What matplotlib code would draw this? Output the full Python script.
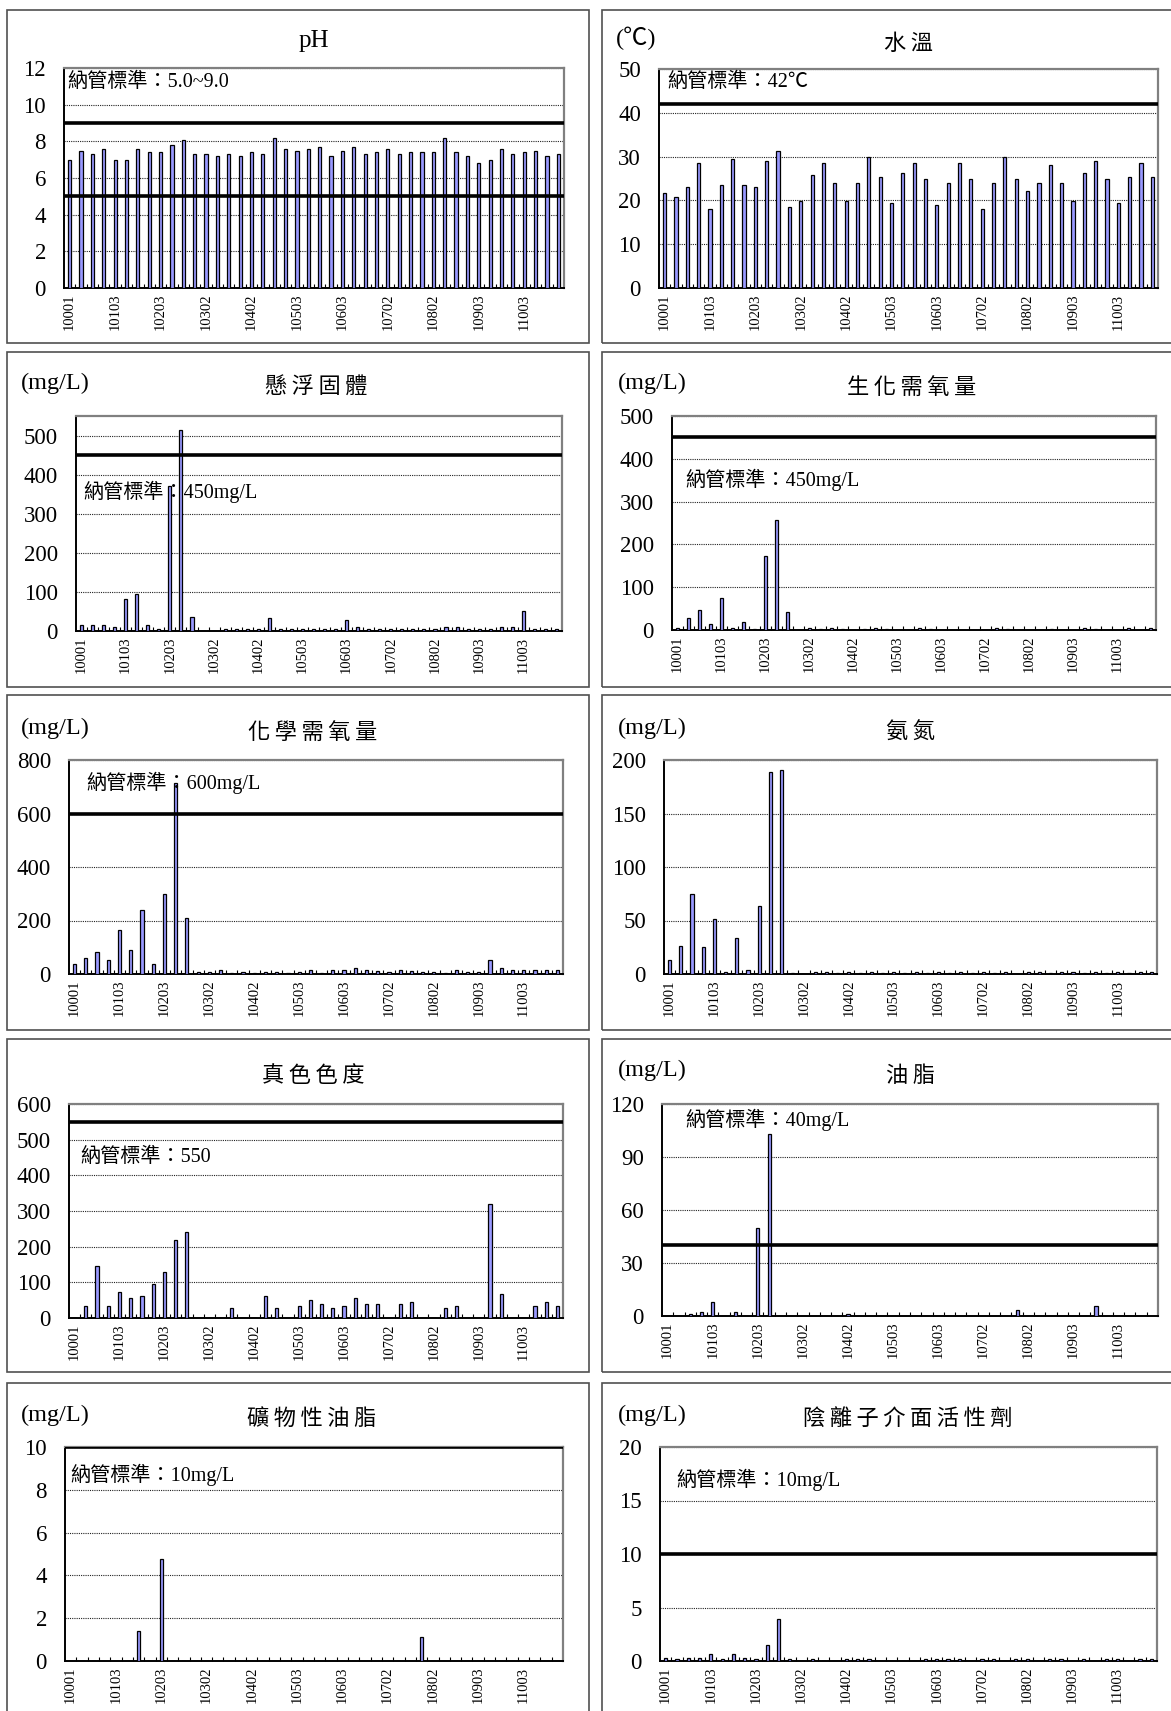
import numpy as np
import matplotlib
matplotlib.use("Agg")
import matplotlib.pyplot as plt
from matplotlib.patches import Rectangle
from matplotlib.ticker import FixedLocator, MultipleLocator

plt.rcParams['font.family'] = ['Liberation Serif', 'Noto Sans CJK TC', 'DejaVu Sans']

# Sampling periods (ROC year + month), one label every fourth sample
tick_labels = ['10001', '10103', '10203', '10302', '10402', '10503',
               '10603', '10702', '10802', '10903', '11003']
n_samples = 44

ph_values = [7.0, 7.5, 7.3, 7.6, 7.0, 7.0, 7.6, 7.4, 7.4, 7.8,
             8.1, 7.3, 7.3, 7.2, 7.3, 7.2, 7.4, 7.3, 8.2, 7.6,
             7.5, 7.6, 7.7, 7.2, 7.5, 7.7, 7.3, 7.4, 7.6, 7.3,
             7.4, 7.4, 7.4, 8.2, 7.4, 7.2, 6.8, 7.0, 7.6, 7.3,
             7.4, 7.5, 7.2, 7.3]
temp_values = [21.8, 20.8, 23.1, 28.6, 18.1, 23.6, 29.5, 23.6, 23.1, 29.0,
               31.3, 18.5, 19.9, 25.8, 28.6, 24.0, 19.9, 24.0, 29.9, 25.4,
               19.5, 26.3, 28.6, 24.9, 19.0, 24.0, 28.6, 24.9, 18.1, 24.0,
               29.9, 24.9, 22.2, 24.0, 28.1, 24.0, 19.9, 26.3, 29.0, 24.9,
               19.5, 25.4, 28.6, 25.4]
ss_values = [16, 16, 16, 11, 83, 94, 16, 6, 371, 515,
             37, 0, 0, 4, 6, 6, 6, 32, 6, 4,
             6, 6, 4, 6, 27, 10, 4, 6, 4, 6,
             4, 6, 6, 10, 10, 4, 6, 4, 10, 10,
             52, 4, 6, 6]
bod_values = [4, 27, 46, 13, 74, 4, 18, 3, 172, 256,
              41, 0, 4, 3, 4, 3, 0, 3, 4, 3,
              0, 0, 4, 3, 0, 0, 0, 0, 0, 4,
              3, 0, 0, 0, 3, 0, 0, 4, 3, 0,
              0, 4, 0, 5]
cod_values = [37, 61, 81, 52, 164, 90, 238, 37, 299, 715,
              208, 7, 7, 15, 4, 7, 5, 7, 7, 5,
              7, 15, 5, 15, 15, 22, 15, 12, 7, 15,
              12, 7, 7, 5, 15, 7, 7, 52, 22, 15,
              15, 15, 15, 15]
nh3_values = [13, 26, 75, 25, 51, 2, 34, 4, 64, 189,
              191, 1, 0, 2, 2, 1, 2, 1, 2, 1,
              2, 1, 2, 1, 2, 1, 2, 1, 2, 1,
              2, 0, 2, 2, 1, 2, 2, 1, 2, 1,
              2, 1, 2, 2]
color_values = [0, 34, 146, 34, 73, 55, 61, 96, 128, 219,
                241, 0, 0, 0, 28, 0, 0, 61, 28, 0,
                34, 51, 39, 28, 34, 55, 39, 39, 0, 39,
                45, 0, 0, 28, 34, 0, 0, 319, 67, 0,
                0, 34, 45, 34]
oil_values = [0, 0, 1.1, 2.3, 8, 0, 2.3, 0, 50, 103,
              0, 0, 0, 0, 0, 0, 1.1, 0, 0, 0,
              0, 0, 0, 0, 0, 0, 0, 0, 0, 0,
              0, 3.4, 0, 0, 0, 0, 0, 0, 5.7, 0,
              0, 0, 0, 0]
mineral_oil_values = [0, 0, 0, 0, 0, 0, 1.4, 0, 4.75, 0,
                      0, 0, 0, 0, 0, 0, 0, 0, 0, 0,
                      0, 0, 0, 0, 0, 0, 0, 0, 0, 0,
                      0, 1.1, 0, 0, 0, 0, 0, 0, 0, 0,
                      0, 0, 0, 0]
surfactant_values = [0.3, 0.2, 0.3, 0.3, 0.7, 0.2, 0.7, 0.3, 0.15, 1.5,
                     3.9, 0.15, 0, 0.2, 0, 0, 0.2, 0.15, 0.2, 0,
                     0, 0, 0, 0.2, 0.15, 0.2, 0.2, 0, 0.2, 0.15,
                     0, 0.2, 0.15, 0, 0.2, 0.15, 0, 0.2, 0, 0.2,
                     0.2, 0, 0.2, 0.2]

# Discharge standards
ph_limits = [5.0, 9.0]
temp_limit = [42]
ss_limit = [450]
bod_limit = [450]
cod_limit = [600]
color_limit = [550]
oil_limit = [40]
mineral_oil_limit = [10]
surfactant_limit = [10]

W, H = 1171, 1711
fig = plt.figure(figsize=(W / 100, H / 100), dpi=100)

BAR_FACE = '#9999FF'
CN = ['Noto Sans CJK TC', 'DejaVu Sans']
SERIF = ['Liberation Serif', 'Noto Sans CJK TC', 'DejaVu Sans']


def fx(x):
    return x / W


def fy(y):
    return 1 - y / H


def spaced(s):
    return '\u2009'.join(s)


def panel_box(l, t, r, b):
    fig.patches.append(Rectangle((fx(l), fy(b)), fx(r - l), (b - t) / H,
                                 transform=fig.transFigure, fill=False,
                                 edgecolor='#505050', linewidth=1.2, zorder=0))


def draw_panel(rect, values, ymax, ystep, limits, title, title_xy, unit,
               unit_xy, note, note_xy, title_font=CN, title_size=16):
    l, t, r, b = rect
    ax = fig.add_axes([fx(l), fy(b), fx(r - l), (b - t) / H])
    x = np.arange(n_samples)
    ax.bar(x, values, width=0.28, color=BAR_FACE, edgecolor='black',
           linewidth=0.9, zorder=3)
    for lim in limits:
        ax.axhline(lim, color='black', linewidth=2.6, zorder=4)
    ax.set_xlim(-0.5, n_samples - 0.5)
    ax.set_ylim(0, ymax)
    ax.yaxis.set_major_locator(MultipleLocator(ystep))
    ax.grid(axis='y', linestyle=(0, (1, 1)), color='#222222', linewidth=0.8,
            zorder=1)
    ax.set_xticks(np.arange(0, n_samples, 4))
    ax.set_xticklabels(tick_labels, rotation=90, fontsize=10.5,
                       family='Liberation Serif')
    ax.xaxis.set_minor_locator(FixedLocator(np.arange(0.5, n_samples - 0.5, 1)))
    ax.tick_params(axis='x', which='major', length=0, pad=4)
    ax.tick_params(axis='x', which='minor', direction='in', length=3,
                   width=0.8, color='black')
    ax.tick_params(axis='y', length=0, pad=13, labelsize=16.5)
    for lab in ax.get_yticklabels():
        lab.set_family('Liberation Serif')
    for side in ('top', 'right'):
        ax.spines[side].set_color('#808080')
        ax.spines[side].set_linewidth(1.6)
    for side in ('left', 'bottom'):
        ax.spines[side].set_color('black')
        ax.spines[side].set_linewidth(1.4)
    fig.text(fx(title_xy[0]), fy(title_xy[1]), title, ha='center',
             va='center', fontsize=title_size, family=title_font)
    if unit:
        fig.text(fx(unit_xy[0]), fy(unit_xy[1]), unit, ha='left',
                 va='center', fontsize=17.5, family=SERIF)
    if note:
        fig.text(fx(note_xy[0]), fy(note_xy[1]), note, ha='left',
                 va='center', fontsize=14.5, family=SERIF, zorder=6)
    return ax


rows = [(10, 343), (352, 687), (695, 1030), (1039, 1372), (1383, 1725)]
for t, b in rows:
    panel_box(7, t, 589, b)
    panel_box(602, t, 1185, b)

draw_panel((64, 68, 564, 288), ph_values, 12, 2, ph_limits,
           'pH', (314, 41), None, None,
           '納管標準：5.0~9.0', (67, 82), title_font=SERIF, title_size=18)
draw_panel((659, 69, 1158, 288), temp_values, 50, 10, temp_limit,
           spaced('水溫'), (908, 43), '(℃)', (616, 38),
           '納管標準：42℃', (667, 82))
draw_panel((76, 416, 562, 631), ss_values, 550, 100, ss_limit,
           spaced('懸浮固體'), (316, 387), '(mg/L)', (21, 383),
           '納管標準：450mg/L', (83, 492))
draw_panel((672, 416, 1156, 630), bod_values, 500, 100, bod_limit,
           spaced('生化需氧量'), (912, 387), '(mg/L)', (618, 383),
           '納管標準：450mg/L', (685, 480))
draw_panel((69, 760, 563, 974), cod_values, 800, 200, cod_limit,
           spaced('化學需氧量'), (313, 732), '(mg/L)', (21, 728),
           '納管標準：600mg/L', (86, 783))
draw_panel((664, 760, 1157, 974), nh3_values, 200, 50, [],
           spaced('氨氮'), (910, 732), '(mg/L)', (618, 728),
           None, None)
draw_panel((69, 1104, 563, 1318), color_values, 600, 100, color_limit,
           spaced('真色色度'), (313, 1075), None, None,
           '納管標準：550', (80, 1157))
draw_panel((662, 1104, 1158, 1316), oil_values, 120, 30, oil_limit,
           spaced('油脂'), (910, 1075), '(mg/L)', (618, 1070),
           '納管標準：40mg/L', (685, 1120))
draw_panel((65, 1447, 563, 1661), mineral_oil_values, 10, 2, mineral_oil_limit,
           spaced('礦物性油脂'), (312, 1418), '(mg/L)', (21, 1415),
           '納管標準：10mg/L', (70, 1475))
draw_panel((660, 1447, 1157, 1661), surfactant_values, 20, 5, surfactant_limit,
           spaced('陰離子介面活性劑'), (908, 1418), '(mg/L)', (618, 1415),
           '納管標準：10mg/L', (676, 1480))

fig.savefig('out.png', dpi=100)
